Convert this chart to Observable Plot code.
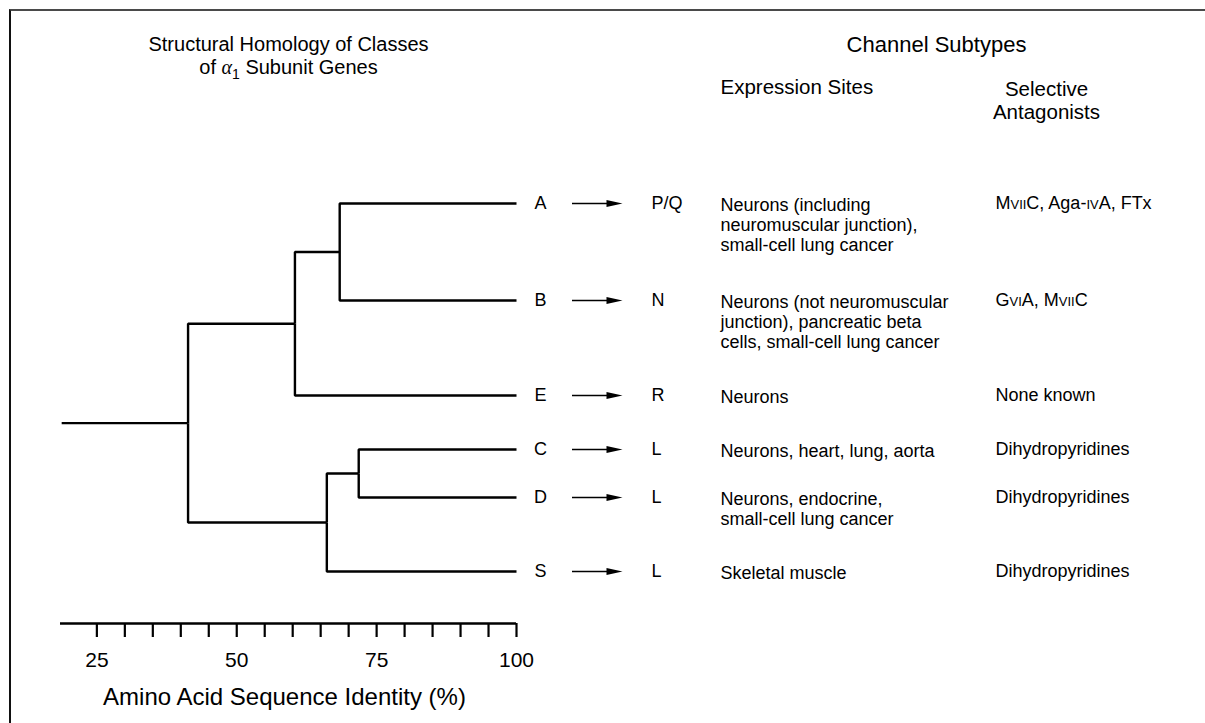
<!DOCTYPE html>
<html><head><meta charset="utf-8">
<script src="https://cdn.jsdelivr.net/npm/d3@7"></script>
<script src="https://cdn.jsdelivr.net/npm/@observablehq/plot@0.6"></script>
<style>
body{margin:0;background:#fff;}
#wrap{position:relative;width:1205px;height:723px;overflow:hidden;}
#wrap svg{display:block;}
#frame{position:absolute;left:9px;top:9px;right:-20px;bottom:-20px;border-top:2px solid #4a4a4a;border-left:2px solid #111;pointer-events:none;}
</style></head><body><div id="wrap"><div id="frame"></div></div>
<script>
// ---- data ----
const genes = ["A", "B", "E", "C", "D", "S"];
const subtypes = ["P/Q", "N", "R", "L", "L", "L"];
// vertical position of each leaf, in text-line units from the first row
const leafRows = [0, 4.85, 9.6, 12.3, 14.7, 18.4];
const expressionSites = [
  "Neurons (including\nneuromuscular junction),\nsmall-cell lung cancer",
  "Neurons (not neuromuscular\njunction), pancreatic beta\ncells, small-cell lung cancer",
  "Neurons",
  "Neurons, heart, lung, aorta",
  "Neurons, endocrine,\nsmall-cell lung cancer",
  "Skeletal muscle"
];
const antagonists = [
  "M[vii]C, Aga-[iv]A, FTx",
  "G[vi]A, M[vii]C",
  "None known",
  "Dihydropyridines",
  "Dihydropyridines",
  "Dihydropyridines"
];
// internal nodes of the dendrogram (% amino acid identity at the join)
const nodeNames = ["root", "ABE", "AB", "CDS", "CD"];
const nodeIdentity = [41.3, 60.4, 68.4, 66.1, 71.8];
const nodeChildren = [["ABE", "CDS"], ["AB", "E"], ["A", "B"], ["CD", "S"], ["C", "D"]];
const leafIdentity = 100;
const rootStemStart = 18.8;
const axisStart = 18.5;
const axisTicks = [25, 30, 35, 40, 45, 50, 55, 60, 65, 70, 75, 80, 85, 90, 95, 100];
const axisTickLabels = [25, 50, 75, 100];

// ---- build tree geometry ----
const nodes = new Map();
genes.forEach((g, i) => nodes.set(g, {name: g, x: leafIdentity, y: leafRows[i]}));
function node(name) {
  if (nodes.has(name)) return nodes.get(name);
  const i = nodeNames.indexOf(name);
  const kids = nodeChildren[i].map(node);
  const n = {name, x: nodeIdentity[i], y: d3.mean(kids, k => k.y), kids};
  nodes.set(name, n);
  return n;
}
const root = node("root");
const links = [];
for (const name of nodeNames) {
  const n = nodes.get(name);
  for (const k of n.kids) links.push({x1: n.x, y1: n.y, x2: k.x, y2: k.y});
}
const rows = genes.map((g, i) => ({gene: g, row: leafRows[i], subtype: subtypes[i], expr: expressionSites[i], antag: antagonists[i]}));

// ---- layout (pixels) ----
const W = 1205, H = 723;
const xs = d3.scaleLinear([axisStart, 100], [60, 516]);
const rowPx = 20, firstRowPx = 203, axisRow = 21;
const px2x = p => xs.invert(p);
const px2row = p => (p - firstRowPx) / rowPx;
const col = {
  label: 540, arrowStart: 572, arrowEnd: 622, subtype: 651, expr: 720, antag: 995,
  antagHead: 1046, channelHead: 936, leftTitle: 288, axisTitle: 284
};
const font = "Liberation Sans, Arial, Helvetica, sans-serif";
const rowFont = 18, lh = rowPx / rowFont;
const headFont = 20.5, titleFont = 20;

const arrowHead = {
  draw(ctx) { ctx.moveTo(0, 0); ctx.lineTo(-16, -3.6); ctx.lineTo(-16, 3.6); ctx.closePath(); }
};

const svg = Plot.plot({
  width: W, height: H,
  marginTop: 0, marginLeft: 0, marginRight: 0, marginBottom: H - (firstRowPx + axisRow * rowPx),
  style: {fontFamily: font, background: "transparent", color: "#000", overflow: "visible"},
  x: {type: "linear", domain: [axisStart, 100], range: [60, 516]},
  y: {type: "linear", domain: [0, axisRow], range: [firstRowPx, firstRowPx + axisRow * rowPx], axis: null},
  marks: [
    // dendrogram
    Plot.ruleY([root], {y: "y", x1: rootStemStart, x2: "x", stroke: "#000", strokeWidth: 2.4}),
    Plot.link(links, {x1: "x1", y1: "y1", x2: "x2", y2: "y2", curve: "step-before", stroke: "#000", strokeWidth: 2.4}),
    // axis
    Plot.ruleY([axisRow], {x1: axisStart, x2: 100, stroke: "#000", strokeWidth: 2.4}),
    Plot.axisX(axisTicks, {anchor: "bottom", tickSize: 14, tickPadding: 15, strokeWidth: 2.2,
      tickFormat: d => axisTickLabels.includes(d) ? String(d) : "", fontSize: 21, label: null}),
    Plot.text(["Amino Acid Sequence Identity (%)"], {x: px2x(col.axisTitle), y: px2row(697), fontSize: 24}),
    // titles
    Plot.text(["Structural Homology of Classes"], {x: px2x(col.leftTitle), y: px2row(44), fontSize: titleFont}),
    Plot.text(["of {α}_1_ Subunit Genes"], {x: px2x(col.leftTitle), y: px2row(67), fontSize: titleFont}),
    Plot.text(["Channel Subtypes"], {x: px2x(col.channelHead), y: px2row(44), fontSize: 22}),
    Plot.text(["Expression Sites"], {x: px2x(col.expr), y: px2row(87), fontSize: headFont, textAnchor: "start"}),
    Plot.text(["Selective\nAntagonists"], {x: px2x(col.antagHead), y: px2row(87), fontSize: headFont, lineAnchor: "top", dy: -0.39 * headFont, lineHeight: 23 / headFont}),
    // rows
    Plot.text(rows, {x: px2x(col.label), y: "row", text: "gene", fontSize: rowFont}),
    Plot.ruleY(rows, {y: "row", x1: px2x(col.arrowStart), x2: px2x(col.arrowEnd - 8), stroke: "#000", strokeWidth: 1.6}),
    Plot.dot(rows, {x: px2x(col.arrowEnd), y: "row", symbol: arrowHead, fill: "#000", stroke: "none"}),
    Plot.text(rows, {x: px2x(col.subtype), y: "row", text: "subtype", fontSize: rowFont, textAnchor: "start"}),
    Plot.text(rows, {x: px2x(col.expr), y: "row", text: "expr", fontSize: rowFont, textAnchor: "start", lineAnchor: "top", dy: -0.39 * rowFont, lineHeight: lh}),
    Plot.text(rows, {x: px2x(col.antag), y: "row", text: "antag", fontSize: rowFont, textAnchor: "start"})
  ]
});

// rich-text markup: [..] small caps, {..} math italic, _.._ subscript
function applyMarkup(el) {
  const s = el.textContent;
  if (!/[\[\{_]/.test(s)) return;
  const parts = s.split(/(\[[^\]]+\]|\{[^}]+\}|_[^_]+_)/).filter(p => p);
  el.textContent = "";
  let sub = false;
  for (const p of parts) {
    const t = document.createElementNS("http://www.w3.org/2000/svg", "tspan");
    if (p[0] === "[") { t.textContent = p.slice(1, -1).toUpperCase(); t.setAttribute("style", "font-size:72%"); }
    else if (p[0] === "{") { t.textContent = p.slice(1, -1); t.setAttribute("style", "font-style:italic;font-family:'Liberation Serif','DejaVu Serif',serif"); }
    else if (p[0] === "_") { t.textContent = p.slice(1, -1); t.setAttribute("style", "font-size:70%"); t.setAttribute("dy", "5"); sub = true; }
    else { t.textContent = p; if (sub) { t.setAttribute("dy", "-5"); sub = false; } }
    el.appendChild(t);
  }
}
svg.querySelectorAll("text").forEach(el => {
  if (el.querySelector("tspan")) el.querySelectorAll("tspan").forEach(applyMarkup);
  else applyMarkup(el);
});

document.getElementById("wrap").prepend(svg);
</script></body></html>
